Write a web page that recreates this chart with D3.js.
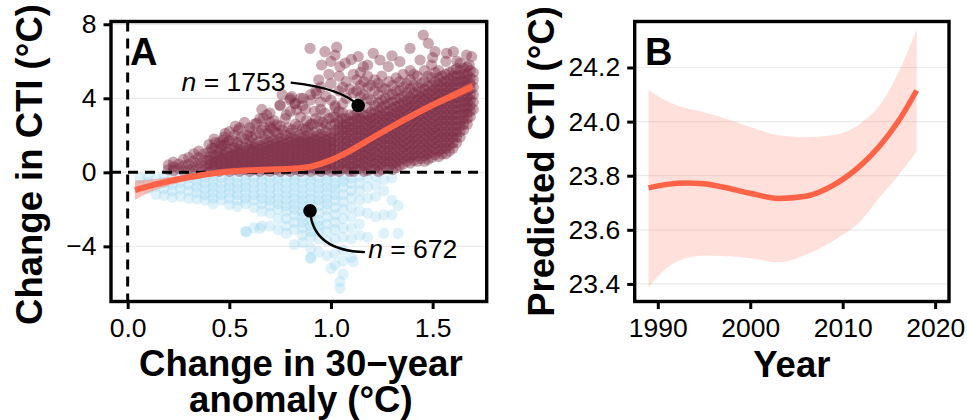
<!DOCTYPE html>
<html><head><meta charset="utf-8">
<script src="https://cdn.jsdelivr.net/npm/d3@7"></script>
<style>body{margin:0;background:#fff}svg{display:block}</style>
</head><body>
<svg id="c" width="967" height="420"></svg>
<script>
// ---------- DATA ----------
// Panel A: scatter clouds as [x, [y values]] columns
const maroonLeft = [
 [0.200,[0.15,0.4]],[0.225,[0.1,0.3,0.55]],[0.250,[0.2,0.45]],[0.275,[0.1,0.35,0.7]],
 [0.300,[0.15,0.45,0.8]],[0.325,[0.05,0.3,0.6,1.0]],[0.350,[0.2,0.5,0.8,1.15]],[0.375,[0.1,0.35,0.65,1.0]]
];
const maroonCore = [
 [0.400,[0.05,0.25,0.45,0.65,0.85,1.1,1.5]],
 [0.425,[0.15,0.35,0.55,0.75,0.95,1.3,1.8]],
 [0.450,[0.05,0.25,0.45,0.65,0.85,1.05,1.25,1.6]],
 [0.475,[0.15,0.35,0.55,0.75,0.95,1.15,1.5,1.9]],
 [0.500,[0.05,0.25,0.45,0.65,0.85,1.05,1.25,1.7,2.2]],
 [0.525,[0.15,0.35,0.55,0.75,0.95,1.15,1.35,2.0]],
 [0.550,[0.05,0.25,0.45,0.65,0.85,1.05,1.25,1.45,2.4]],
 [0.575,[0.15,0.35,0.55,0.75,0.95,1.15,1.35,1.8,2.7]],
 [0.600,[0.05,0.25,0.45,0.65,0.85,1.05,1.25,1.45,1.65,2.2]],
 [0.625,[0.15,0.35,0.55,0.75,0.95,1.15,1.35,1.55,2.6]],
 [0.650,[0.05,0.25,0.45,0.65,0.85,1.05,1.25,1.45,1.7,2.1,2.9]],
 [0.675,[0.15,0.35,0.55,0.75,0.95,1.15,1.35,1.55,1.8,2.4]],
 [0.700,[0.05,0.25,0.45,0.65,0.85,1.05,1.25,1.45,1.65,1.9,2.7,3.2]],
 [0.725,[0.15,0.35,0.55,0.75,0.95,1.15,1.35,1.55,1.75,2.2]],
 [0.750,[0.05,0.25,0.45,0.65,0.85,1.05,1.25,1.45,1.65,1.85,2.5,3.6]],
 [0.775,[0.15,0.35,0.55,0.75,0.95,1.15,1.35,1.55,1.75,2.0,2.9]],
 [0.800,[0.05,0.25,0.45,0.65,0.85,1.05,1.25,1.45,1.65,1.85,2.1,3.3,4.0]],
 [0.825,[0.15,0.35,0.55,0.75,0.95,1.15,1.35,1.55,1.75,1.95,2.6,3.7]],
 [0.850,[0.05,0.25,0.45,0.65,0.85,1.05,1.25,1.45,1.65,1.85,2.05,3.0,4.0]],
 [0.875,[0.15,0.35,0.55,0.75,0.95,1.15,1.35,1.55,1.75,1.95,2.3,3.4]],
 [0.900,[0.05,0.25,0.45,0.65,0.85,1.05,1.25,1.45,1.65,1.85,2.05,2.6,4.2]],
 [0.925,[0.15,0.35,0.55,0.75,0.95,1.15,1.35,1.55,1.75,1.95,2.2,2.9,4.4]],
 [0.950,[0.05,0.25,0.45,0.65,0.85,1.05,1.25,1.45,1.65,1.85,2.05,2.4,3.8,4.6]],
 [0.975,[0.15,0.35,0.55,0.75,0.95,1.15,1.35,1.55,1.75,1.95,2.2,2.6,4.1]],
 [1.000,[0.05,0.25,0.45,0.65,0.85,1.05,1.25,1.45,1.65,1.85,2.1,2.5,3.9,4.8]],
 [1.020,[0.15,0.45,0.75,1.05,1.35,1.65,1.95,2.25,2.6,3.0,3.6]]
];
const maroonUpper = [
 [0.46,1.45],[0.49,1.6],[0.52,1.7],[0.54,1.6],[0.56,1.9],[0.59,2.0],[0.61,1.9],[0.63,2.05],
 [0.66,2.3],[0.69,2.1],[0.71,2.35],[0.74,2.1],[0.76,2.3],[0.79,2.4],[0.81,2.3],[0.84,2.5],
 [0.86,2.35],[0.89,2.45],[0.91,2.6],[0.94,2.75],[0.96,2.7],[0.99,2.9],[0.72,2.8],[0.78,3.1],
 [0.88,2.8],[0.92,3.3],[0.97,3.2],[1.01,3.0],[0.6,2.4],[0.53,2.5],[0.48,2.1],[0.43,1.6],
 [0.66,3.4],[0.86,3.6],[0.95,3.4],[1.02,3.5],[0.76,4.2],[0.9,3.9]
];
const maroonRight = [
 [1.040,[0.05,0.35,0.65,0.95,1.25,1.55,1.85,2.15,2.45,2.75,3.3,4.4,5.2]],
 [1.0575,[0.2,0.5,0.8,1.1,1.4,1.7,2.0,2.3,2.6,2.9,3.2,3.7,4.6]],
 [1.075,[0.2,0.5,0.8,1.1,1.4,1.7,2.0,2.3,2.6,2.9,4.0,4.9]],
 [1.0925,[0.05,0.35,0.65,0.95,1.25,1.55,1.85,2.15,2.45,2.75,3.1,4.5]],
 [1.110,[0.05,0.35,0.65,0.95,1.25,1.55,1.85,2.15,2.45,2.75,3.05,4.3,5.3]],
 [1.1275,[0.2,0.5,0.8,1.1,1.4,1.7,2.0,2.3,2.6,2.9,3.2,4.4,5.0]],
 [1.145,[0.2,0.5,0.8,1.1,1.4,1.7,2.0,2.3,2.6,2.9,3.2,4.1,4.7,5.4]],
 [1.1625,[0.05,0.35,0.65,0.95,1.25,1.55,1.85,2.15,2.45,2.75,3.05,4.2,4.9]],
 [1.180,[0.1,0.4,0.7,1.0,1.3,1.6,1.9,2.2,2.5,2.8,3.1,3.5,4.0,4.6,5.2]],
 [1.1975,[0.25,0.55,0.85,1.15,1.45,1.75,2.05,2.35,2.65,2.95,3.25,3.9,4.7]],
 [1.215,[0.2,0.5,0.8,1.1,1.4,1.7,2.0,2.3,2.6,2.9,3.2,3.6,4.4,5.0]],
 [1.2325,[0.05,0.35,0.65,0.95,1.25,1.55,1.85,2.15,2.45,2.75,3.05,3.35,3.75,4.2,4.8]],
 [1.250,[0.15,0.45,0.75,1.05,1.35,1.65,1.95,2.25,2.55,2.85,3.15,3.5,3.9,4.6,5.2]],
 [1.2675,[0.3,0.6,0.9,1.2,1.5,1.8,2.1,2.4,2.7,3.0,3.3,3.65,4.0,4.5]],
 [1.285,[0.3,0.6,0.9,1.2,1.5,1.8,2.1,2.4,2.7,3.0,3.3,3.7,4.2,4.9]],
 [1.3025,[0.15,0.45,0.75,1.05,1.35,1.65,1.95,2.25,2.55,2.85,3.15,3.45,3.8,4.2,4.7]],
 [1.320,[0.25,0.55,0.85,1.15,1.45,1.75,2.05,2.35,2.65,2.95,3.25,3.55,3.9,4.4,5.1]],
 [1.3375,[0.35,0.65,0.95,1.25,1.55,1.85,2.15,2.45,2.75,3.05,3.35,3.65,4.0,4.4,4.9]],
 [1.355,[0.45,0.75,1.05,1.35,1.65,1.95,2.25,2.55,2.85,3.15,3.45,3.75,4.1,4.6,5.3]],
 [1.3725,[0.6,0.9,1.2,1.5,1.8,2.1,2.4,2.7,3.0,3.3,3.6,3.9,4.3,4.8]],
 [1.390,[0.5,0.8,1.1,1.4,1.7,2.0,2.3,2.6,2.9,3.2,3.5,3.8,4.1,4.5,5.0,5.5]],
 [1.4075,[0.65,0.95,1.25,1.55,1.85,2.15,2.45,2.75,3.05,3.35,3.65,3.95,4.3,4.7,5.3]],
 [1.425,[0.6,0.9,1.2,1.5,1.8,2.1,2.4,2.7,3.0,3.3,3.6,3.9,4.2,4.6,5.2]],
 [1.4425,[0.75,1.05,1.35,1.65,1.95,2.25,2.55,2.85,3.15,3.45,3.75,4.05,4.35,4.8]],
 [1.460,[0.6,0.9,1.2,1.5,1.8,2.1,2.4,2.7,3.0,3.3,3.6,3.9,4.2,4.5,4.9,5.5]],
 [1.4775,[0.7,1.0,1.3,1.6,1.9,2.2,2.5,2.8,3.1,3.4,3.7,4.0,4.3,4.65,5.2]],
 [1.495,[0.8,1.1,1.4,1.7,2.0,2.3,2.6,2.9,3.2,3.5,3.8,4.1,4.4,4.7,5.1,5.8]],
 [1.5125,[0.95,1.25,1.55,1.85,2.15,2.45,2.75,3.05,3.35,3.65,3.95,4.25,4.55,4.9,5.4]],
 [1.530,[0.85,1.15,1.45,1.75,2.05,2.35,2.65,2.95,3.25,3.55,3.85,4.15,4.45,4.75,5.1,5.5]],
 [1.5475,[1.0,1.3,1.6,1.9,2.2,2.5,2.8,3.1,3.4,3.7,4.0,4.3,4.6,4.9,5.2]],
 [1.565,[1.0,1.3,1.6,1.9,2.2,2.5,2.8,3.1,3.4,3.7,4.0,4.3,4.6,4.9,5.3,6.0]],
 [1.5825,[1.15,1.45,1.75,2.05,2.35,2.65,2.95,3.25,3.55,3.85,4.15,4.45,4.75,5.05,5.4]],
 [1.600,[1.3,1.6,1.9,2.2,2.5,2.8,3.1,3.4,3.7,4.0,4.3,4.6,4.9,5.2,5.5]],
 [1.6175,[1.6,1.9,2.2,2.5,2.8,3.1,3.4,3.7,4.0,4.3,4.6,4.9,5.2,5.6]],
 [1.635,[1.9,2.2,2.5,2.8,3.1,3.4,3.7,4.0,4.3,4.6,4.9,5.2,5.5,5.9]],
 [1.6525,[2.3,2.6,2.9,3.2,3.5,3.8,4.1,4.4,4.7,5.0,5.3,5.6]],
 [1.670,[2.6,2.9,3.2,3.5,3.8,4.1,4.4,4.7,5.0,5.3,5.7]],
 [1.685,[3.0,3.3,3.6,3.9,4.2,4.5,4.8,5.1,5.5]],
 [1.700,[3.4,3.8,4.2,4.6,5.0,5.4]]
];
const maroonSparse = [
 [0.897,6.70],[0.97,6.52],[1.028,6.76],[1.02,6.34],[0.954,5.8],[1.044,5.71],[1.134,6.25],
 [1.208,6.43],[1.241,6.07],[1.282,5.71],[1.389,6.70],[1.454,7.42],[1.479,6.97],[1.512,6.52],
 [1.569,6.43],[1.602,6.52],[1.667,6.34],[1.692,6.25],[1.339,5.98],[1.438,6.07],[1.159,5.71],
 [0.749,3.64],[0.798,3.9],[0.864,4.0],[0.93,4.27],[0.831,3.37],[0.667,2.92],[0.634,2.65],
 [0.7,2.46],[0.544,2.29],[0.47,1.75],[0.413,1.3],[0.823,3.73],[0.807,4.09],[0.733,2.56],
 [0.684,3.1],[1.07,5.9],[1.1,6.1],[1.5,6.2],[1.62,6.0],[1.68,5.8],[1.3,6.3],[1.18,5.8],
 [0.99,5.3],[0.94,5.0],[1.0,6.0]
];
const blueCols = [
 [0.06,[-0.3,-0.7]],[0.10,[-0.2,-0.55,-0.9]],[0.14,[-0.35,-0.75,-1.2]],
 [0.18,[-0.2,-0.55,-0.9,-1.25]],[0.22,[-0.3,-0.65,-1.0,-1.35]],[0.26,[-0.2,-0.55,-0.9,-1.3]],
 [0.30,[-0.3,-0.65,-1.0,-1.4]],[0.34,[-0.2,-0.5,-0.8,-1.1,-1.45]],[0.38,[-0.3,-0.6,-0.9,-1.2,-1.5]],
 [0.42,[-0.2,-0.5,-0.8,-1.1,-1.4,-1.7]],[0.46,[-0.3,-0.6,-0.9,-1.2,-1.5]],
 [0.50,[-0.2,-0.5,-0.8,-1.1,-1.4,-1.75]],[0.54,[-0.3,-0.6,-0.9,-1.2,-1.5,-1.85]],
 [0.58,[-0.2,-0.5,-0.8,-1.1,-1.4,-1.7,-3.2]],[0.62,[-0.3,-0.6,-0.9,-1.2,-1.5,-1.9,-3.0]],
 [0.66,[-0.2,-0.5,-0.8,-1.1,-1.4,-1.7,-2.1,-2.9]],[0.70,[-0.3,-0.6,-0.9,-1.2,-1.5,-1.8,-2.2,-2.9]],
 [0.74,[-0.2,-0.5,-0.8,-1.1,-1.4,-1.7,-2.0,-2.5,-3.1]],
 [0.78,[-0.3,-0.6,-0.9,-1.2,-1.5,-1.8,-2.1,-2.5,-2.9,-3.3]],
 [0.82,[-0.2,-0.5,-0.8,-1.1,-1.4,-1.7,-2.0,-2.3,-2.7,-3.1,-3.9]],
 [0.86,[-0.3,-0.6,-0.9,-1.2,-1.5,-1.8,-2.1,-2.4,-2.7,-3.0,-3.4,-3.8]],
 [0.90,[-0.2,-0.5,-0.8,-1.1,-1.4,-1.7,-2.0,-2.3,-2.6,-2.9,-3.2,-3.5,-4.1,-4.6]],
 [0.94,[-0.3,-0.6,-0.9,-1.2,-1.5,-1.8,-2.2,-2.6,-2.9,-3.2,-3.6,-4.3]],
 [0.98,[-0.2,-0.5,-0.8,-1.1,-1.4,-1.7,-2.0,-2.4,-2.8,-3.2,-3.7,-4.5]],
 [1.02,[-0.3,-0.6,-0.9,-1.2,-1.5,-1.9,-2.3,-2.7,-3.1,-3.6,-4.4,-5.0]],
 [1.06,[-0.2,-0.5,-0.8,-1.2,-1.6,-2.0,-2.5,-3.0,-3.5,-4.2,-4.8,-5.5]],
 [1.10,[-0.3,-0.6,-1.0,-1.4,-1.9,-2.4,-3.0,-3.6,-4.6]],
 [1.14,[-0.2,-0.6,-1.0,-1.5,-2.1,-2.8,-3.4]],[1.18,[-0.3,-0.8,-1.4,-2.2,-3.5]],
 [1.22,[-0.2,-0.7,-1.3,-2.4]],[1.26,[-0.4,-1.0,-2.3,-3.3]],[1.30,[-0.3,-1.5,-2.3]],[1.33,[-1.8,-3.3]]
];
const blueSparse = [[1.044,-5.91],[1.044,-6.27],[1.11,-4.83],[1.0,-5.2],[0.9,-4.65],[0.585,-3.21],[0.65,-3.03]];

// Panel A smooth fit
const smoothX  = [0.036,0.1,0.2,0.3,0.4,0.5,0.6,0.7,0.8,0.9,1.0,1.1,1.2,1.3,1.4,1.5,1.6,1.697];
const smoothY  = [-0.96,-0.76,-0.49,-0.27,-0.09,0.04,0.11,0.15,0.19,0.31,0.66,1.2,1.84,2.47,3.07,3.64,4.15,4.65];
const smoothLo = [-1.48,-1.12,-0.72,-0.44,-0.22,-0.06,0.02,0.06,0.1,0.21,0.55,1.08,1.7,2.32,2.9,3.45,3.93,4.38];
const smoothHi = [-0.44,-0.40,-0.26,-0.10,0.04,0.14,0.20,0.24,0.28,0.41,0.77,1.32,1.98,2.62,3.24,3.83,4.37,4.92];

// Panel A annotations: label anchor, curve start, curve control, point
const annotText  = ["1753","672"];
const annotLabel = [[0.776,4.41],[1.183,-4.65]];
const annotStart = [[0.802,4.85],[1.167,-4.31]];
const annotCtrl  = [[1.054,4.55],[0.912,-4.23]];
const annotPoint = [[1.134,3.61],[0.897,-2.08]];

const ticksAx = [0.0,0.5,1.0,1.5];
const ticksAy = [-4,0,4,8];

// Panel B
const yearsB = [1989,1991,1993,1995,1997,2000,2003,2006,2009,2012,2014,2016,2018];
const fitB   = [23.755,23.768,23.773,23.770,23.758,23.735,23.716,23.724,23.765,23.84,23.91,24.00,24.115];
const upperB = [24.118,24.075,24.05,24.035,24.015,23.98,23.95,23.942,23.95,23.995,24.06,24.18,24.34];
const lowerB = [23.388,23.46,23.495,23.505,23.503,23.495,23.48,23.508,23.56,23.635,23.72,23.80,23.89];
const ticksBx = [1990,2000,2010,2020];
const ticksBy = [23.4,23.6,23.8,24.0,24.2];

// ---------- DRAWING ----------
const FONT = "'Liberation Sans', Arial, Helvetica, sans-serif";
const RED = "#FF6347", MAROON = "#7A2940", SKY = "#87CEEB";
const svg = d3.select("#c");
svg.append("rect").attr("width",967).attr("height",420).attr("fill","#fff");

const A = {l:111, r:486.7, t:21.5, b:301.5};
const B = {l:634.7, r:949, t:21.5, b:301.5};
const xA = d3.scaleLinear().domain([-0.082,1.766]).range([A.l,A.r]);
const yA = d3.scaleLinear().domain([-6.98,8.15]).range([A.b,A.t]);
const xB = d3.scaleLinear().domain([1987.5,2021.5]).range([B.l,B.r]);
const yB = d3.scaleLinear().domain([23.335,24.37]).range([B.b,B.t]);

function grid(g, P, y, ticks){
  g.append("g").selectAll("line").data(ticks).join("line")
   .attr("x1",P.l).attr("x2",P.r).attr("y1",d=>y(d)).attr("y2",d=>y(d))
   .attr("stroke","#ebebeb").attr("stroke-width",1.2);
}
function axes(g, P, x, y, tx, ty, fx, fy){
  const ax = g.append("g").attr("transform",`translate(0,${P.b})`)
    .call(d3.axisBottom(x).tickValues(tx).tickFormat(fx).tickSize(7.5).tickPadding(9));
  const ay = g.append("g").attr("transform",`translate(${P.l},0)`)
    .call(d3.axisLeft(y).tickValues(ty).tickFormat(fy).tickSize(7.5).tickPadding(7));
  [ax,ay].forEach(a=>{
    a.select(".domain").remove();
    a.selectAll("line").attr("stroke","#000").attr("stroke-width",3);
    a.selectAll("text").attr("fill","#000").style("font-family",FONT).style("font-size","26.5px");
  });
}
function frame(g,P){
  g.append("rect").attr("x",P.l).attr("y",P.t).attr("width",P.r-P.l).attr("height",P.b-P.t)
   .attr("fill","none").attr("stroke","#000").attr("stroke-width",3.4);
}

// ----- Panel A -----
const gA = svg.append("g");
grid(gA, A, yA, ticksAy);
const flat = cols => cols.flatMap(([x,ys])=>ys.map(y=>[x,y]));
const bluePts = flat(blueCols).concat(blueSparse);
const maroonPts = flat(maroonLeft).concat(flat(maroonCore), maroonUpper, flat(maroonRight), maroonSparse);
gA.append("g").selectAll("circle").data(bluePts).join("circle")
  .attr("cx",d=>xA(d[0])).attr("cy",d=>yA(d[1])).attr("r",5.6)
  .attr("fill",SKY).attr("fill-opacity",0.27);
gA.append("g").selectAll("circle").data(maroonPts).join("circle")
  .attr("cx",d=>xA(d[0])).attr("cy",d=>yA(d[1])).attr("r",5.6)
  .attr("fill",MAROON).attr("fill-opacity",0.4);
// reference lines
gA.append("line").attr("x1",A.l).attr("x2",A.r).attr("y1",yA(0)).attr("y2",yA(0))
  .attr("stroke","#000").attr("stroke-width",3).attr("stroke-dasharray","10,7");
gA.append("line").attr("x1",xA(0)).attr("x2",xA(0)).attr("y1",A.t).attr("y2",A.b)
  .attr("stroke","#000").attr("stroke-width",3).attr("stroke-dasharray","10,7");
// smooth ribbon + line
const idxA = d3.range(smoothX.length);
gA.append("path").datum(idxA)
  .attr("d", d3.area().x(i=>xA(smoothX[i])).y0(i=>yA(smoothLo[i])).y1(i=>yA(smoothHi[i])).curve(d3.curveMonotoneX))
  .attr("fill",RED).attr("fill-opacity",0.4);
gA.append("path").datum(idxA)
  .attr("d", d3.line().x(i=>xA(smoothX[i])).y(i=>yA(smoothY[i])).curve(d3.curveMonotoneX))
  .attr("fill","none").attr("stroke",RED).attr("stroke-width",6);
// annotations
annotText.forEach((t,i)=>{
  const s=annotStart[i], c=annotCtrl[i], p=annotPoint[i];
  gA.append("path")
    .attr("d",`M${xA(s[0])},${yA(s[1])}Q${xA(c[0])},${yA(c[1])} ${xA(p[0])},${yA(p[1])}`)
    .attr("fill","none").attr("stroke","#000").attr("stroke-width",2.4);
  gA.append("circle").attr("cx",xA(p[0])).attr("cy",yA(p[1])).attr("r",6.8).attr("fill","#000");
  const tx = gA.append("text").attr("x",xA(annotLabel[i][0])).attr("y",yA(annotLabel[i][1]))
    .attr("text-anchor", i===0 ? "end":"start")
    .style("font-family",FONT).style("font-size","26.5px").attr("fill","#000");
  tx.append("tspan").attr("font-style","italic").text("n");
  tx.append("tspan").text(" = "+t);
});
axes(gA, A, xA, yA, ticksAx, ticksAy, d3.format(".1f"), d3.format("d"));
frame(gA, A);
gA.append("text").attr("x",130).attr("y",65).text("A")
  .style("font-family",FONT).style("font-size","38px").style("font-weight","bold");
// titles
const tA = gA.append("text").attr("text-anchor","middle")
  .style("font-family",FONT).style("font-size","36.5px").style("font-weight","bold");
tA.append("tspan").attr("x",(A.l+A.r)/2+2).attr("y",375.5).text("Change in 30\u2212year");
tA.append("tspan").attr("x",(A.l+A.r)/2+2).attr("y",412).text("anomaly (\u00B0C)");
gA.append("text").attr("transform",`translate(42,${(A.t+A.b)/2+3}) rotate(-90)`)
  .attr("text-anchor","middle").text("Change in CTI (\u00B0C)")
  .style("font-family",FONT).style("font-size","36.5px").style("font-weight","bold");

// ----- Panel B -----
const gB = svg.append("g");
grid(gB, B, yB, ticksBy);
const idxB = d3.range(yearsB.length);
gB.append("path").datum(idxB)
  .attr("d", d3.area().x(i=>xB(yearsB[i])).y0(i=>yB(lowerB[i])).y1(i=>yB(upperB[i])).curve(d3.curveMonotoneX))
  .attr("fill",RED).attr("fill-opacity",0.2);
gB.append("path").datum(idxB)
  .attr("d", d3.line().x(i=>xB(yearsB[i])).y(i=>yB(fitB[i])).curve(d3.curveMonotoneX))
  .attr("fill","none").attr("stroke",RED).attr("stroke-width",5.5);
axes(gB, B, xB, yB, ticksBx, ticksBy, d3.format("d"), d3.format(".1f"));
frame(gB, B);
gB.append("text").attr("x",645).attr("y",64.5).text("B")
  .style("font-family",FONT).style("font-size","38px").style("font-weight","bold");
gB.append("text").attr("x",(B.l+B.r)/2).attr("y",376.5).attr("text-anchor","middle").text("Year")
  .style("font-family",FONT).style("font-size","36.5px").style("font-weight","bold");
gB.append("text").attr("transform",`translate(554,${(B.t+B.b)/2}) rotate(-90)`)
  .attr("text-anchor","middle").text("Predicted CTI (\u00B0C)")
  .style("font-family",FONT).style("font-size","36.5px").style("font-weight","bold");
</script>
</body></html>
